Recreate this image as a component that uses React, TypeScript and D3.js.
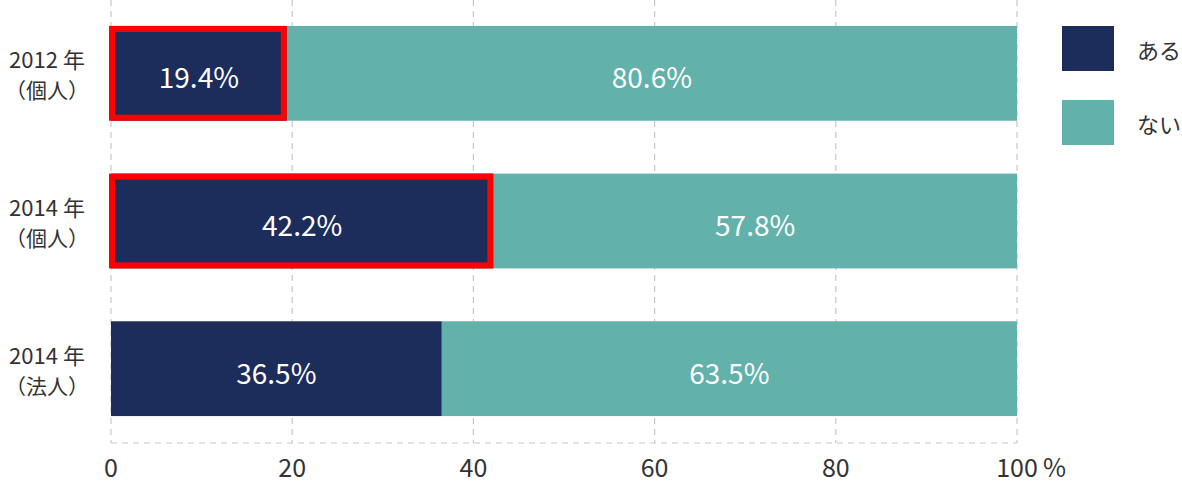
import React, { useEffect, useRef } from 'react';
import * as d3 from 'd3';

const categories = ['2012 年|（個人）', '2014 年|（個人）', '2014 年|（法人）'];
const yesValues = [19.4, 42.2, 36.5];
const noValues = [80.6, 57.8, 63.5];
const highlighted = [true, true, false];
const xTicks = [0, 20, 40, 60, 80, 100];
const seriesNames = ['ある', 'ない'];

const NAVY = '#1c2c5b';
const TEAL = '#62b1aa';
const FONT = '"Noto Sans CJK JP", "Noto Sans", sans-serif';

export default function App() {
  const svgRef = useRef<SVGSVGElement>(null);

  useEffect(() => {
    if (!svgRef.current) return;
    const width = 1182;
    const height = 483;
    const svg = d3.select(svgRef.current);
    svg.selectAll('*').remove();
    svg.attr('width', width).attr('height', height);

    const margin = { left: 111, right: 165 };
    const plotBottom = 443;

    const x = d3.scaleLinear().domain([0, 100]).range([margin.left, width - margin.right]);
    const y = d3.scaleBand<number>()
      .domain(d3.range(categories.length))
      .range([-0.5, 442.5])
      .paddingInner(53 / 148)
      .paddingOuter(26.5 / 148);

    // grid
    svg.append('g')
      .selectAll('line')
      .data(xTicks)
      .join('line')
      .attr('x1', d => x(d)).attr('x2', d => x(d))
      .attr('y1', 0).attr('y2', plotBottom)
      .attr('stroke', '#c8c8c8').attr('stroke-width', 1.2).attr('stroke-dasharray', '6,5');

    svg.append('line')
      .attr('x1', x(0)).attr('x2', x(100))
      .attr('y1', plotBottom).attr('y2', plotBottom)
      .attr('stroke', '#c8c8c8').attr('stroke-width', 1.2).attr('stroke-dasharray', '6,5');

    // bars
    categories.forEach((cat, i) => {
      const by = y(i)!;
      const bh = y.bandwidth();
      const yv = yesValues[i];
      const nv = noValues[i];

      svg.append('rect')
        .attr('x', x(yv)).attr('y', by)
        .attr('width', x(yv + nv) - x(yv)).attr('height', bh)
        .attr('fill', TEAL);
      svg.append('rect')
        .attr('x', x(0)).attr('y', by)
        .attr('width', x(yv) - x(0)).attr('height', bh)
        .attr('fill', NAVY);

      if (highlighted[i]) {
        svg.append('rect')
          .attr('x', x(0) + 1).attr('y', by + 3)
          .attr('width', x(yv) - x(0) - 4).attr('height', bh - 6)
          .attr('fill', 'none').attr('stroke', '#ff0000').attr('stroke-width', 6);
      }

      const cy = by + bh / 2 + 3;
      svg.append('text')
        .attr('x', (x(0) + x(yv)) / 2).attr('y', cy)
        .attr('text-anchor', 'middle').attr('dominant-baseline', 'central')
        .attr('fill', '#ffffff').attr('font-size', 28).attr('font-family', FONT)
        .text(`${yv.toFixed(1)}%`);
      svg.append('text')
        .attr('x', (x(yv) + x(yv + nv)) / 2).attr('y', cy)
        .attr('text-anchor', 'middle').attr('dominant-baseline', 'central')
        .attr('fill', '#ffffff').attr('font-size', 28).attr('font-family', FONT)
        .text(`${nv.toFixed(1)}%`);

      const [l1, l2] = cat.split('|');
      const lc = by + bh / 2;
      svg.append('text')
        .attr('x', 47).attr('y', lc - 15)
        .attr('text-anchor', 'middle').attr('dominant-baseline', 'central')
        .attr('fill', '#333333').attr('font-size', 22).attr('font-family', FONT)
        .text(l1);
      svg.append('text')
        .attr('x', 47).attr('y', lc + 16)
        .attr('text-anchor', 'middle').attr('dominant-baseline', 'central')
        .attr('fill', '#333333').attr('font-size', 21).attr('font-family', FONT)
        .text(l2);
    });

    // x tick labels
    svg.append('g')
      .selectAll('text')
      .data(xTicks)
      .join('text')
      .attr('x', d => x(d)).attr('y', 477)
      .attr('text-anchor', 'middle')
      .attr('fill', '#333333').attr('font-size', 25).attr('font-family', FONT)
      .text(d => String(d));
    svg.append('text')
      .attr('x', x(100) + 26).attr('y', 477)
      .attr('fill', '#333333').attr('font-size', 25).attr('font-family', FONT)
      .text('%');

    // legend
    const legendColors = [NAVY, TEAL];
    seriesNames.forEach((name, i) => {
      const ly = 26 + i * 74;
      svg.append('rect')
        .attr('x', 1062).attr('y', ly).attr('width', 52).attr('height', 45)
        .attr('fill', legendColors[i]);
      svg.append('text')
        .attr('x', 1137).attr('y', ly + 23)
        .attr('dominant-baseline', 'central')
        .attr('fill', '#333333').attr('font-size', 22).attr('font-family', FONT)
        .text(name);
    });
  }, []);

  return (
    <div style={{ position: 'absolute', left: 0, top: 0, background: '#ffffff' }}>
      <svg ref={svgRef} style={{ display: 'block' }} />
    </div>
  );
}
